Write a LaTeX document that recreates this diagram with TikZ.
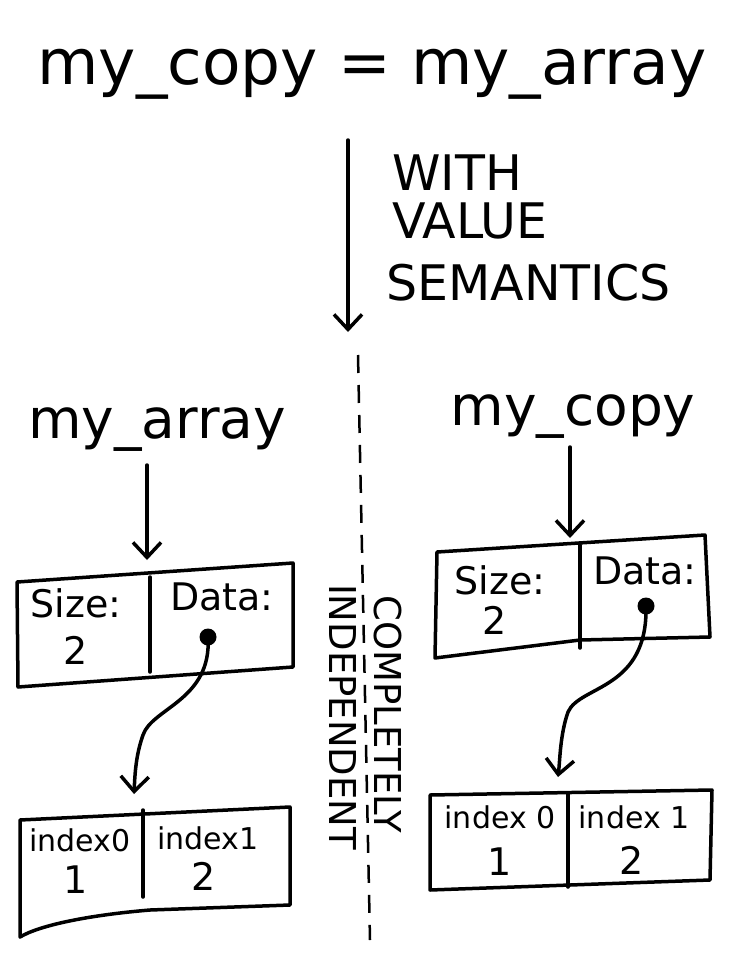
\documentclass[tikz,border=0pt]{standalone}
\usepackage{fontspec}
\setmainfont{DejaVu Sans}
\usetikzlibrary{arrows.meta}
\begin{document}
\begin{tikzpicture}[x=1pt,y=-1pt,
  pen/.style={line width=3.5pt, line join=round, line cap=round},
  arr/.style={pen, -{Straight Barb[length=15pt,width=28pt,line width=3.5pt]}},
  ttltext/.style={font=\fontsize{63}{66}\selectfont, inner sep=0pt},
  vartext/.style={font=\fontsize{55}{58}\selectfont, inner sep=0pt},
  capstext/.style={font=\fontsize{49}{52}\selectfont, inner sep=0pt, anchor=base west},
  verttext/.style={font=\fontsize{37}{40}\selectfont, inner sep=0pt, rotate=-90},
  celltext/.style={font=\fontsize{38}{42}\selectfont, inner sep=0pt},
  idxtext/.style={font=\fontsize{30}{34}\selectfont, inner sep=0pt},
  numtext/.style={font=\fontsize{38}{42}\selectfont, inner sep=0pt},
  dotc/.style={circle, fill=black, minimum size=17pt, inner sep=0pt}]
\fill[white] (0,0) rectangle (747,963);
\useasboundingbox (0,0) rectangle (747,963);

% title
\node[ttltext, anchor=base] (title) at (372,85) {my\_copy = my\_array};

% main arrow
\coordinate (mtop) at (348,140);
\coordinate (mbot) at (348,332);
\draw[arr] (mtop) -- (mbot);
\node[capstext] (with) at (392,190) {WITH};
\node[capstext] (value) at (392,238) {VALUE};
\node[capstext] (sem) at (386,300) {SEMANTICS};

% dashed divider
\coordinate (dtop) at (358,355);
\coordinate (dbot) at (370,940);
\draw[line width=2.5pt, dash pattern=on 18pt off 12pt] (dtop) -- (dbot);
\node[verttext] (compl) at (388,714) {COMPLETELY};
\node[verttext] (indep) at (343,717) {INDEPENDENT};

% left side
\node[vartext, anchor=base] (lname) at (157,438) {my\_array};
\coordinate (lin) at (147,560);
\draw[arr] (147,465) -- (lin);

\draw[pen] (17,582) -- (293,563) -- (293,667) -- (18,687) -- cycle;
\draw[pen] (150,577) -- (150,672);
\node[celltext] (lsize) at (76,603) {Size:};
\node[numtext] (ls2) at (76,650) {2};
\node[celltext] (ldata) at (222,597) {Data:};
\node[dotc] (ldot) at (208,637) {};

\draw[pen] (20,820) -- (290,807) -- (290,905) -- (150,910) .. controls (90,915) and (40,925) .. (20,937) -- cycle;
\draw[pen] (143,810) -- (143,897);
\node[idxtext] (li0) at (80,840) {index0};
\node[numtext] (lv1) at (76,880) {1};
\node[idxtext] (li1) at (208,838) {index1};
\node[numtext] (lv2) at (204,876) {2};

\coordinate (larr) at (134,794);
\draw[arr] (ldot.center) .. controls (212,700) and (152,708) .. (143,735) .. controls (136,755) and (135,772) .. (larr);

% right side
\node[vartext, anchor=base] (rname) at (573,425) {my\_copy};
\coordinate (rin) at (570,538);
\draw[arr] (570,447) -- (rin);

\draw[pen] (437,552) -- (705,535) -- (710,637) -- (580,640) -- (435,658) -- cycle;
\draw[pen] (580,545) -- (580,648);
\node[celltext] (rsize) at (500,580) {Size:};
\node[numtext] (rs2) at (495,620) {2};
\node[celltext] (rdata) at (645,571) {Data:};
\node[dotc] (rdot) at (646,606) {};

\draw[pen] (430,795) -- (712,790) -- (710,880) -- (430,890) -- cycle;
\draw[pen] (568,793) -- (568,887);
\node[idxtext] (ri0) at (500,817) {index 0};
\node[numtext] (rv1) at (500,862) {1};
\node[idxtext] (ri1) at (634,817) {index 1};
\node[numtext] (rv2) at (632,860) {2};

\coordinate (rarr) at (558,777);
\draw[arr] (rdot.center) .. controls (648,690) and (580,685) .. (568,712) .. controls (560,735) and (560,760) .. (rarr);
\end{tikzpicture}
\end{document}
